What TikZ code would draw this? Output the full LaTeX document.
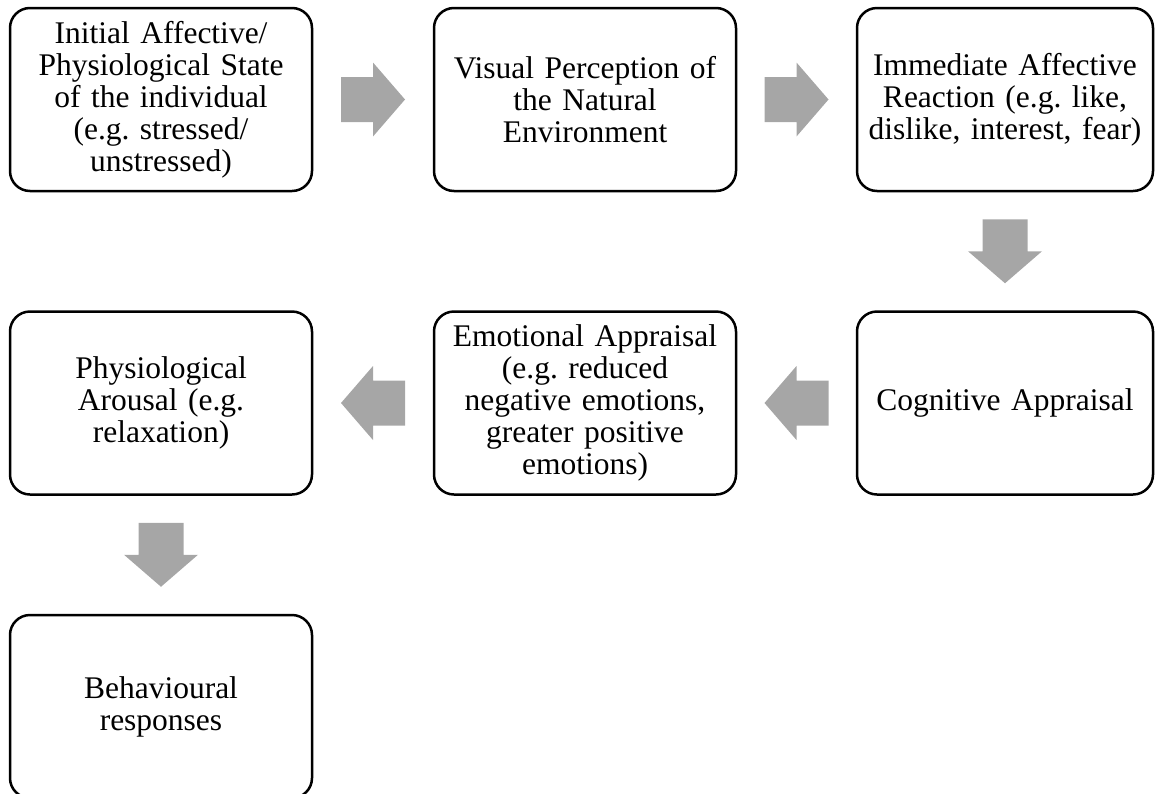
\documentclass[tikz,border=0pt]{standalone}
\usepackage{fontspec}
\setmainfont{Liberation Serif}
\usetikzlibrary{calc}

\definecolor{arrowgray}{HTML}{A6A6A6}

% Block arrow pointing right, centred on #1, turned by #2 degrees
\newcommand{\blockarrow}[2]{%
  \fill[arrowgray, shift={(#1)}, rotate=#2]
    (-32,-22.5) -- (0,-22.5) -- (0,-37) -- (32,0) -- (0,37)
    -- (0,22.5) -- (-32,22.5) -- cycle;}

\tikzset{
  stagebox/.style={draw=black, line width=2.5pt, rounded corners=20pt,
    minimum width=302pt, minimum height=183pt, inner sep=0pt,
    text width=296pt, align=center,
    font=\fontsize{31.5}{32}\selectfont\frenchspacing},
}

\begin{document}
\frenchspacing
\begin{tikzpicture}[x=1pt, y=-1pt]
  \useasboundingbox (0,0) rectangle (1155,793);
  \clip (0,0) rectangle (1155,793);

  % first row
  \node[stagebox] (init) at (161,99.5)
    {Initial Affective/\\Physiological State\\of the individual\\(e.g. stressed/\\unstressed)};
  \node[stagebox] (visual) at (585,99.5)
    {Visual Perception of\\the Natural\\Environment};
  \node[stagebox, minimum width=296pt] (immediate) at (1005,99.5)
    {Immediate Affective\\Reaction (e.g. like,\\dislike, interest, fear)};

  % second row
  \node[stagebox] (physio) at (161,403)
    {Physiological\\Arousal (e.g.\\relaxation)};
  \node[stagebox] (emotional) at (585,403)
    {Emotional Appraisal\\(e.g. reduced\\negative emotions,\\greater positive\\emotions)};
  \node[stagebox, minimum width=296pt] (cognitive) at (1005,403)
    {Cognitive Appraisal};

  % third row
  \node[stagebox] (behaviour) at (161,706.5)
    {Behavioural\\responses};

  % connectors between the stages
  \coordinate (a1) at ($(init.east)!0.5!(visual.west)$);
  \coordinate (a2) at ($(visual.east)!0.5!(immediate.west)$);
  \coordinate (a3) at ($(immediate.south)!0.5!(cognitive.north)$);
  \coordinate (a4) at ($(cognitive.west)!0.5!(emotional.east)$);
  \coordinate (a5) at ($(emotional.west)!0.5!(physio.east)$);
  \coordinate (a6) at ($(physio.south)!0.5!(behaviour.north)$);

  \blockarrow{a1}{0}
  \blockarrow{a2}{0}
  \blockarrow{a3}{-90}
  \blockarrow{a4}{180}
  \blockarrow{a5}{180}
  \blockarrow{a6}{-90}
\end{tikzpicture}
\end{document}
